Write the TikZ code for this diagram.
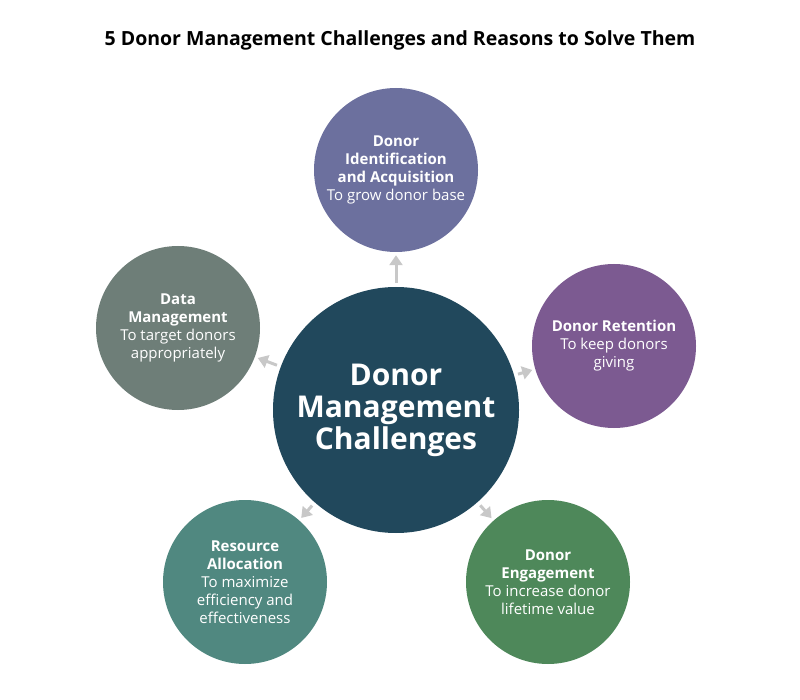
\documentclass[tikz,border=0pt]{standalone}
\usepackage{fontspec}
\setmainfont{Open Sans}
\usetikzlibrary{arrows.meta,positioning}
\definecolor{dmcenter}{RGB}{33,72,92}
\definecolor{dmtop}{RGB}{108,112,158}
\definecolor{dmright}{RGB}{124,90,145}
\definecolor{dmbr}{RGB}{78,136,90}
\definecolor{dmbl}{RGB}{80,136,128}
\definecolor{dmleft}{RGB}{110,126,120}
\definecolor{dmarrow}{RGB}{200,200,200}
\tikzstyle{arrow} = [line width=3pt,-{Triangle[length=10pt,width=13pt]},color=dmarrow,shorten <=4pt,shorten >=3pt]
\tikzstyle{challenge} = [circle, minimum size=164pt, inner sep=0pt, text centered, text=white, font=\fontsize{15}{18}\selectfont, align=center]

\begin{document}
\begin{tikzpicture}[x=1pt,y=-1pt]
\useasboundingbox (0,0) rectangle (800,700);
% Title
\node[font=\bfseries\fontsize{19.5}{23}\selectfont] (title) at (400,40) {5 Donor Management Challenges and Reasons to Solve Them};

% Center
\node[challenge, minimum size=246pt, fill=dmcenter, font=\bfseries\fontsize{30}{32}\selectfont] (center) at (396,410) {Donor\\Management\\Challenges};

% Satellites
\node[challenge, fill=dmtop] (ident) at (396,170) {\textbf{Donor}\\\textbf{Identification}\\\textbf{and Acquisition}\\To grow donor base};
\node[challenge, fill=dmright] (retain) at (614,346) {\textbf{Donor Retention}\\To keep donors\\giving};
\node[challenge, fill=dmbr] (engage) at (548,582) {\textbf{Donor}\\\textbf{Engagement}\\To increase donor\\lifetime value};
\node[challenge, fill=dmbl] (resource) at (245,582) {\textbf{Resource}\\\textbf{Allocation}\\To maximize\\efficiency and\\effectiveness};
\node[challenge, fill=dmleft] (data) at (178,328) {\textbf{Data}\\\textbf{Management}\\To target donors\\appropriately};

% Arrows
\foreach \target in {ident,retain,engage,resource,data}
  \draw[arrow] (center) -- (\target);
\end{tikzpicture}
\end{document}
